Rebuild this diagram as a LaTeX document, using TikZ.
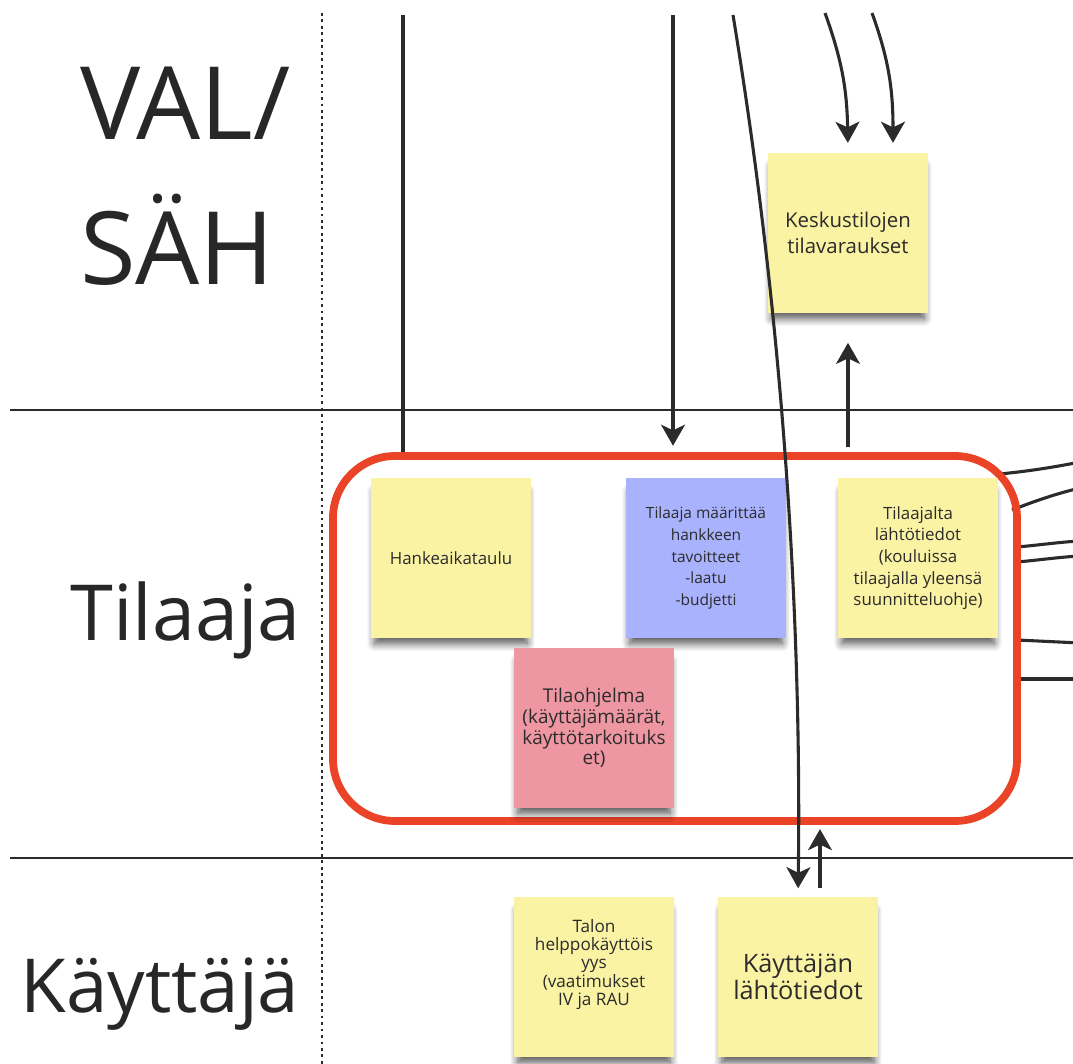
\documentclass[tikz,border=0pt]{standalone}
\usepackage{fontspec}
\setmainfont{Open Sans}
\usepackage{xcolor}
\usetikzlibrary{arrows.meta, positioning, fit, calc, shadows.blur}
\definecolor{ink}{HTML}{2B2B2B}
\definecolor{stickyyel}{HTML}{FBF3A4}
\definecolor{stickyblu}{HTML}{A9B3FD}
\definecolor{stickyred}{HTML}{EE97A2}
\definecolor{grpred}{HTML}{EA4327}

\tikzset{
  sticky/.style={minimum width=4cm, minimum height=4cm, inner sep=0pt, align=center,
    text=ink, blur shadow={shadow xshift=0pt, shadow yshift=-7pt, shadow scale=0.95,
    shadow blur radius=6pt, shadow blur steps=8, shadow opacity=70}},
  wire/.style={draw=ink, line width=2.2pt},
  lane/.style={draw=ink, line width=1.9pt},
  sepline/.style={draw=ink, line width=2.1pt, dash pattern=on 2pt off 2.6pt},
  lanelabel/.style={anchor=base west, inner sep=0pt, text=ink!90!black},
  grpbox/.style={draw=grpred, line width=5.5pt, rounded corners=1.55cm, inner sep=0pt},
}

\begin{document}
\begin{tikzpicture}[x=0.025cm, y=-0.025cm, >={Stealth[length=15pt, width=17pt, inset=4pt]}]
\useasboundingbox (0,0) rectangle (1073,1064);

% lanes
\draw[sepline] (322,13) -- (322,1064);
\draw[lane] (10,410) -- (1080,410);
\draw[lane] (10,858) -- (1080,858);

\node[lanelabel, font=\fontsize{72}{72}\selectfont] (val) at (80,140) {VAL/};
\node[lanelabel, font=\fontsize{72}{72}\selectfont] (sah) at (80,285) {SÄH};
\node[lanelabel, font=\fontsize{55}{55}\selectfont] (tilaaja) at (70,640) {Tilaaja};
\node[lanelabel, font=\fontsize{53}{53}\selectfont] (kayttaja) at (20,1012) {Käyttäjä};

% wires leaving the group to the right
\coordinate (grpc) at (1017,638);
\coordinate (out1) at (1080,462);
\coordinate (out2) at (1080,488);
\coordinate (out3) at (1080,541);
\coordinate (out4) at (1080,556);
\coordinate (out5) at (1080,643);
\coordinate (out6) at (1080,679);
\draw[wire] (1000,474) .. controls (1030,471) and (1055,467) .. (out1);
\draw[wire] (1012,510) .. controls (1035,501) and (1055,494) .. (out2);
\draw[wire] ($(grpc)+(0,-91)$) .. controls (1040,545) and (1060,542) .. (out3);
\draw[wire] ($(grpc)+(0,-76)$) .. controls (1040,560) and (1060,557) .. (out4);
\draw[wire] ($(grpc)+(0,2)$) -- (out5);
\draw[wire] ($(grpc)+(0,41)$) -- (out6);

% Tilaaja group
\node[grpbox, fit={(333,456) (1017,821)}] (grp) {};

% notes
\node[sticky, fill=stickyyel, font=\fontsize{14.5}{18.9}\selectfont] (kesk) at (848,233)
  {Keskustilojen\\tilavaraukset};
\node[sticky, fill=stickyyel, font=\fontsize{12}{15}\selectfont] (hanke) at (451,558)
  {Hankeaikataulu};
\node[sticky, fill=stickyblu, font=\fontsize{11}{15.4}\selectfont] (tavoite) at (706,558)
  {Tilaaja määrittää\\hankkeen\\tavoitteet\\-laatu\\-budjetti};
\node[sticky, fill=stickyyel, font=\fontsize{12}{15.4}\selectfont] (lahto) at (918,558)
  {Tilaajalta\\lähtötiedot\\(kouluissa\\tilaajalla yleensä\\suunnitteluohje)};
\node[sticky, fill=stickyred, font=\fontsize{13.5}{14.8}\selectfont] (ohjelma) at (594,728)
  {Tilaohjelma\\(käyttäjämäärät,\\käyttötarkoituks\\et)};
\node[sticky, fill=stickyyel, font=\fontsize{12.2}{13}\selectfont] (talon) at (594,977)
  {\raisebox{5.5pt}[0pt][0pt]{\begin{tabular}{@{}c@{}}Talon\\helppokäyttöis\\yys\\(vaatimukset\\IV ja RAU\end{tabular}}};
\node[sticky, fill=stickyyel, font=\fontsize{18}{17.7}\selectfont] (kayt) at (798,977)
  {Käyttäjän\\lähtötiedot};

% connectors
\coordinate (top1) at (403,15);
\coordinate (top2) at (673,15);
\coordinate (top3) at (733,15);
\coordinate (top4) at (825,13);
\coordinate (top5) at (872,13);
\coordinate (up1) at ($(kayt.north)+(22,0)$);

\draw[wire] (top1) -- (top1 |- grp.north);
\draw[wire, ->, shorten >=4.5pt] (top2) -- (top2 |- grp.north);
\draw[wire, ->, shorten >=6pt] (top3) .. controls (780,300) and (802,600) .. (kayt.north);
\draw[wire, ->, shorten >=7pt] (top4) .. controls (842,60) and (847,90) .. (kesk.north);
\draw[wire, ->, shorten >=7pt] (top5) .. controls (889,60) and (893,90) .. ($(kesk.north)+(45,0)$);
\draw[wire, ->, shorten <=4pt, shorten >=21pt] (kesk.south |- grp.north) -- (kesk.south);
\draw[wire, ->, shorten <=6pt, shorten >=3pt] (up1) -- (up1 |- grp.south);
\end{tikzpicture}
\end{document}
